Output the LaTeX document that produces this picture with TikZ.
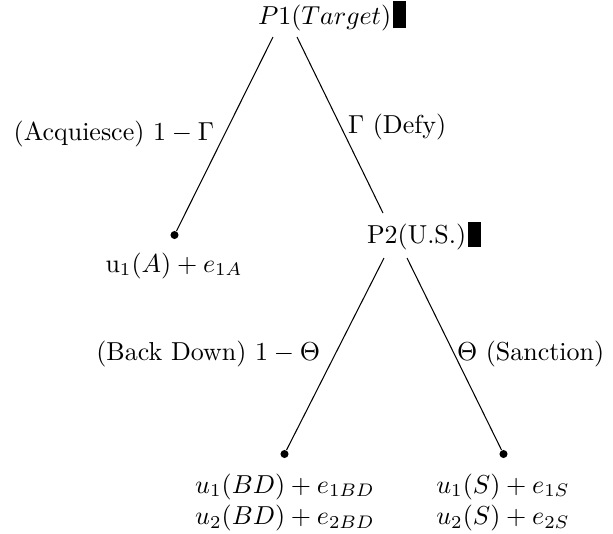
\documentclass[tikz,border=0pt]{standalone}
\begin{document}
\begin{tikzpicture}[x=0.385pt,y=-0.385pt,
  lbl/.style={inner sep=0pt,outer sep=0pt},
  leaf/.style={circle,fill=black,inner sep=0pt,minimum size=3.1pt},
  edge/.style={draw=black,line width=0.4pt}]
\useasboundingbox (0,0) rectangle (613,533);
% decision nodes
\node[lbl,anchor=base west] (p1) at (258,24) {$P1(Target)$};
\node[lbl,anchor=base west] (p1box) at ([xshift=0.8pt]p1.base east) {\rule[-1.7pt]{5pt}{10.4pt}};
\node[lbl,anchor=base west] (p2) at (367,243) {P2(U.S.)};
\node[lbl,anchor=base west] (p2box) at ([xshift=0.6pt]p2.base east) {\rule[-1.6pt]{5pt}{9.8pt}};
% terminal dots
\node[leaf] (a) at (174.5,235) {};
\node[leaf] (bd) at (284.5,454) {};
\node[leaf] (s) at (503.5,454) {};
% connector ends at the decision nodes
\coordinate (p1l) at (273,37);
\coordinate (p1r) at (297,37);
\coordinate (p2t) at (383,213);
\coordinate (p2l) at (384,258);
\coordinate (p2r) at (407,258);
% connectors
\draw[edge] (p1l) -- (a);
\draw[edge] (p1r) -- (p2t);
\draw[edge] (p2l) -- (bd);
\draw[edge] (p2r) -- (s);
% edge labels
\node[lbl,anchor=base east] (la) at (214,140) {(Acquiesce) $1-\Gamma$};
\node[lbl,anchor=base west] (ld) at (348,133) {$\Gamma$ (Defy)};
\node[lbl,anchor=base east] (lbd) at (320,360) {(Back Down) $1-\Theta$};
\node[lbl,anchor=base west] (ls) at (457,360) {$\Theta$ (Sanction)};
% payoffs
\node[lbl,anchor=base] (pa) at (174,272) {$\mathrm{u}_1(A)+e_{1A}$};
\node[lbl,anchor=base] (pbd) at (285,493) {\begin{tabular}[t]{@{}c@{}}$u_1(BD)+e_{1BD}$\\$u_2(BD)+e_{2BD}$\end{tabular}};
\node[lbl,anchor=base] (ps) at (503,493) {\begin{tabular}[t]{@{}c@{}}$u_1(S)+e_{1S}$\\$u_2(S)+e_{2S}$\end{tabular}};
\end{tikzpicture}
\end{document}
